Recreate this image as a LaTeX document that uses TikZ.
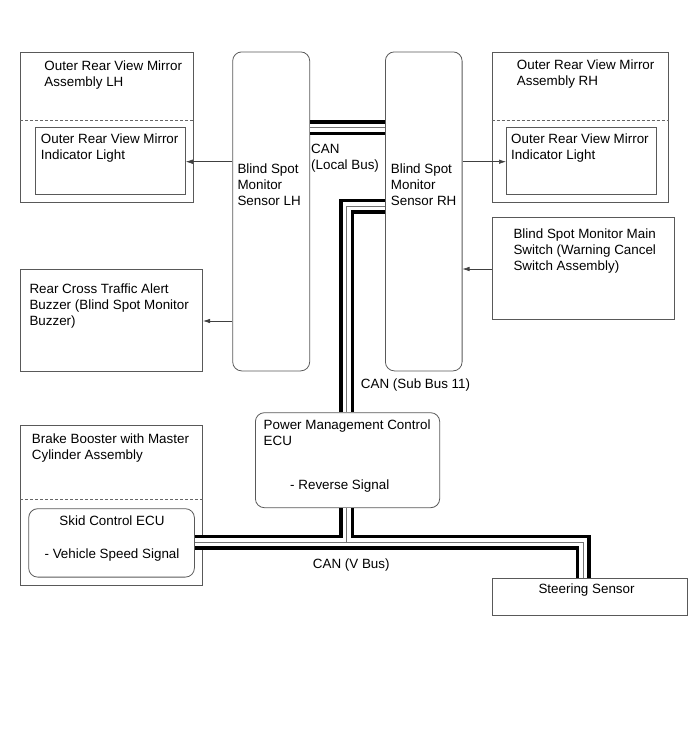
\documentclass[tikz,border=0pt]{standalone}
\usepackage{fontspec}
\setmainfont{Liberation Sans}
\usetikzlibrary{arrows.meta}
\begin{document}
\begin{tikzpicture}[x=1pt,y=-1pt,
  box/.style={draw=black!65,line width=0.8pt,inner sep=0pt,anchor=north west},
  rbox/.style={box,rounded corners=9pt},
  divider/.style={draw=black!60,line width=0.6pt,dash pattern=on 3pt off 2pt},
  txt/.style={anchor=north west,inner sep=0pt,align=left,font=\fontsize{13.4}{16}\selectfont},
  ctxt/.style={anchor=north,inner sep=0pt,align=center,font=\fontsize{13.4}{16}\selectfont},
  sig/.style={draw=black!75,line width=0.6pt,-{Latex[length=7pt,width=4.5pt]}},
  busA/.style={line width=15pt,draw=black},
  busB/.style={line width=8pt,draw=white},
  busC/.style={line width=1pt,draw=black!55},
]
\useasboundingbox (0,0) rectangle (690,756);

% boxes
\node (mirL) [box,minimum width=173pt,minimum height=150pt] at (20,52) {};
\node (indL) [box,minimum width=150pt,minimum height=67.5pt] at (35,126.5) {};
\node (senL) [rbox,minimum width=77pt,minimum height=319pt] at (232.3,51.5) {};
\node (senR) [rbox,minimum width=76.7pt,minimum height=319pt] at (385,51.5) {};
\node (mirR) [box,minimum width=176.6pt,minimum height=150pt] at (491.7,52) {};
\node (indR) [box,minimum width=150pt,minimum height=67.5pt] at (506,126.5) {};
\node (swt) [box,minimum width=182.6pt,minimum height=102pt] at (491.7,217.3) {};
\node (buz) [box,minimum width=182.3pt,minimum height=101.7pt] at (20,269.3) {};
\node (pmc) [rbox,minimum width=184.3pt,minimum height=95pt] at (255,412.3) {};
\node (brk) [box,minimum width=181.7pt,minimum height=160pt] at (20,425) {};
\node (skid) [rbox,minimum width=165.7pt,minimum height=68.4pt] at (28.3,508.3) {};
\node (steer) [box,minimum width=195.3pt,minimum height=37pt] at (491.7,578.3) {};

% dashed dividers
\draw[divider] (mirL.west |- 0,120) -- (mirL.east |- 0,120);
\draw[divider] (mirR.west |- 0,120) -- (mirR.east |- 0,120);
\draw[divider] (brk.west |- 0,499.3) -- (brk.east |- 0,499.3);

% texts
\node (tmirL) [txt] at (44.3,60.7) {Outer Rear View Mirror\\Assembly LH};
\node (tindL) [txt] at (40.7,134) {Outer Rear View Mirror\\Indicator Light};
\node (tsenL) [txt] at (237.3,164) {Blind Spot\\Monitor\\Sensor LH};
\node (tsenR) [txt] at (390.7,164) {Blind Spot\\Monitor\\Sensor RH};
\node (tmirR) [txt] at (516.7,60) {Outer Rear View Mirror\\Assembly RH};
\node (tindR) [txt] at (511,134) {Outer Rear View Mirror\\Indicator Light};
\node (tlocal) [txt] at (311,144) {CAN\\(Local Bus)};
\node (tswt) [txt] at (513.3,228.3) {Blind Spot Monitor Main\\Switch (Warning Cancel\\Switch Assembly)};
\node (tbuz) [txt] at (29.3,283.3) {Rear Cross Traffic Alert\\Buzzer (Blind Spot Monitor\\Buzzer)};
\node (tsub) [txt] at (360.7,378.3) {CAN (Sub Bus 11)};
\node (tpmc) [txt] at (263.5,419.3) {Power Management Control\\ECU};
\node (trev) [txt] at (290,480) {- Reverse Signal};
\node (tbrk) [txt] at (31.7,433.3) {Brake Booster with Master\\Cylinder Assembly};
\node (tskid) [ctxt] at (112,515.7) {Skid Control ECU};
\node (tspd) [ctxt] at (112,548.3) {- Vehicle Speed Signal};
\node (tvbus) [txt] at (312.7,559) {CAN (V Bus)};
\node (tsteer) [txt] at (538.3,583.3) {Steering Sensor};

% signal arrows
\draw[sig] (senL.west |- 0,161.7) -- (indL.east |- 0,161.7);
\draw[sig] (senR.east |- 0,161.7) -- (indR.west |- 0,161.7);
\draw[sig] (swt.west |- 0,269) -- (senR.east |- 0,269);
\draw[sig] (senL.west |- 0,321) -- (buz.east |- 0,321);

% CAN buses
\coordinate (sbc) at (346.5,206);
\coordinate (vj) at (346.5,542);
\coordinate (vr) at (583,542);
\foreach \s in {busA,busB,busC}{
  \draw[\s] (senL.east |- 0,127.5) -- (senR.west |- 0,127.5);
  \draw[\s] (senR.west |- sbc) -- (sbc) -- (sbc |- pmc.north);
  \draw[\s] (vj |- pmc.south) -- (vj) -- (vj -| skid.east);
  \draw[\s] (vj |- pmc.south) -- (vj) -- (vr) -- (vr |- steer.north);
}
\end{tikzpicture}
\end{document}
